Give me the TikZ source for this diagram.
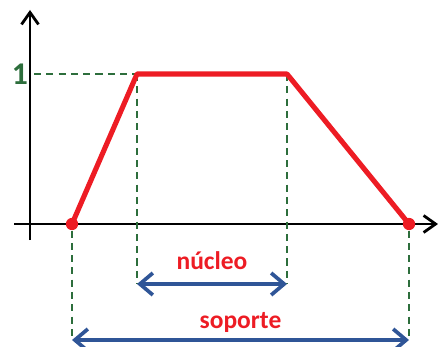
\documentclass[tikz,border=0pt]{standalone}
\usepackage{fontspec}
\setmainfont{Carlito}
\usetikzlibrary{arrows.meta,positioning}
\definecolor{fuzzred}{RGB}{237,28,36}
\definecolor{fuzzblue}{RGB}{47,85,151}
\definecolor{guidegreen}{RGB}{45,110,60}

\begin{document}
\begin{tikzpicture}[
  x=0.02cm, y=-0.02cm,
  font=\fontsize{14.5}{16}\selectfont\bfseries,
  axis/.style={line width=1.6pt, -{Straight Barb[length=2.4mm,width=3.4mm,line width=1.6pt]}},
  guide/.style={draw=guidegreen, line width=0.9pt, dash pattern=on 4pt off 3pt},
  member/.style={draw=fuzzred, line width=2.9pt, line join=round},
  span/.style={draw=fuzzblue, line width=2.1pt,
               {Straight Barb[length=2.6mm,width=4.4mm,line width=2.1pt]}-{Straight Barb[length=2.6mm,width=4.4mm,line width=2.1pt]}},
  dot/.style={circle, fill=fuzzred, inner sep=0pt, minimum size=7pt}
]
\useasboundingbox (0,0) rectangle (438,347);

% axes
\coordinate (xs) at (14,224);
\coordinate (xe) at (438,224);
\coordinate (ys) at (30,240);
\coordinate (ye) at (30,10);
\draw[axis] (xs) -- (xe);
\draw[axis] (ys) -- (ye);

% trapezoid corners
\node[dot] (a) at (72,224) {};
\coordinate (b) at (137,74);
\coordinate (c) at (287,74);
\node[dot] (d) at (409,224) {};
\node[text=guidegreen, font=\fontsize{18}{20}\selectfont\bfseries, left=0pt of {(34,74)}] (one) {1};

% guides
\coordinate (bl) at (34,74);
\coordinate (bn) at (137,284);
\coordinate (cn) at (287,284);
\coordinate (as) at (72,340);
\coordinate (ds) at (409,340);
\draw[guide] (bl) -- (b);
\draw[guide] (b) -- (bn);
\draw[guide] (c) -- (cn);
\draw[guide] (a) -- (as);
\draw[guide] (d) -- (ds);

% membership function
\draw[member] (a.center) -- (b) -- (c) -- (d.center);

% core and support
\draw[span] (bn) -- node[above=4pt, text=fuzzred]{núcleo} (cn);
\draw[span] (as) -- node[above=0pt, text=fuzzred]{soporte} (ds);
\end{tikzpicture}
\end{document}
